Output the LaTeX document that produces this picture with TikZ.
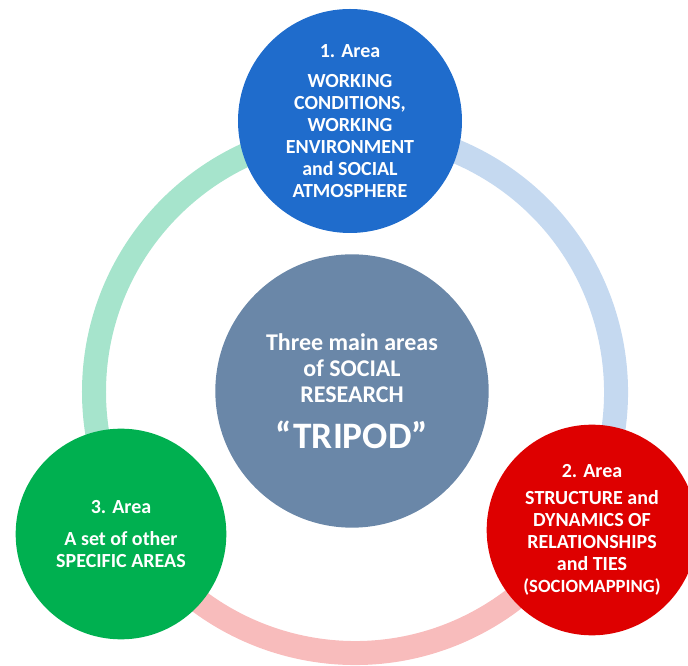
\documentclass[tikz,border=0pt]{standalone}
\usepackage{fontspec}
\setmainfont{Carlito}
\usepackage{tikz}

\definecolor{areablue}{RGB}{31,108,204}
\definecolor{areagreen}{RGB}{0,176,80}
\definecolor{areared}{RGB}{222,0,0}
\definecolor{hubslate}{RGB}{106,135,168}
\definecolor{ringmint}{RGB}{166,228,204}
\definecolor{ringblue}{RGB}{197,217,240}
\definecolor{ringpink}{RGB}{248,188,188}

\begin{document}
\begin{tikzpicture}[x=0.75pt,y=0.75pt,
	ring arc/.style={line width=18pt},
	area node/.style={circle,inner sep=0pt,text=white,align=center,font=\bfseries\fontsize{15}{16.5}\selectfont},
	hub node/.style={circle,inner sep=0pt,fill=hubslate,text=white,align=center,minimum size=205pt,font=\bfseries\fontsize{18}{19.5}\selectfont}
]
	\clip (-355,-274) rectangle (333,392);

	\draw[ring arc,draw=ringmint] (90:195.75pt) arc[start angle=90,end angle=210,radius=195.75pt];
	\draw[ring arc,draw=ringpink] (210:195.75pt) arc[start angle=210,end angle=330,radius=195.75pt];
	\draw[ring arc,draw=ringblue] (330:195.75pt) arc[start angle=330,end angle=450,radius=195.75pt];

	\node[hub node] (C) at (-3,1) {Three main areas\\of SOCIAL\\RESEARCH\\[12.5pt]{\fontsize{28}{30}\selectfont “TRIPOD”}};

	\node[area node,fill=areablue,minimum size=168pt] (A1) at (-5,271) {1. Area\\[6pt]WORKING\\CONDITIONS,\\WORKING\\ENVIRONMENT\\and SOCIAL\\ATMOSPHERE};
	\node[area node,fill=areared,minimum size=158pt] (A2) at (237,-138) {2. Area\\[4pt]STRUCTURE and\\DYNAMICS OF\\RELATIONSHIPS\\and TIES\\{\fontsize{14}{16.5}\selectfont (SOCIOMAPPING)}};
	\node[area node,fill=areagreen,minimum size=158pt] (A3) at (-234,-142) {3. Area\\[7.5pt]A set of other\\SPECIFIC AREAS};

\end{tikzpicture}
\end{document}
